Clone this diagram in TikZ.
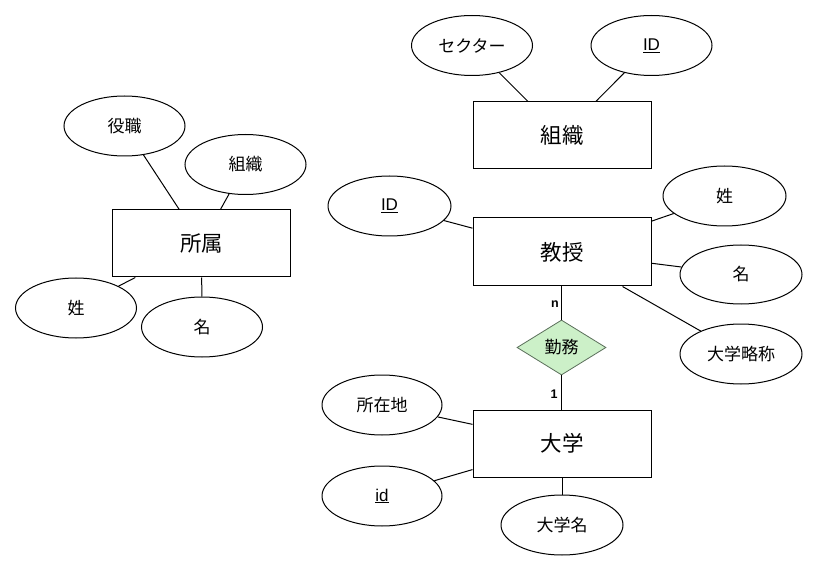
\documentclass[tikz,border=0pt]{standalone}
\usepackage{fontspec}
\setmainfont{Noto Sans CJK JP}
\newfontfamily\latinfont{Liberation Sans}
\usetikzlibrary{shapes.geometric}
\definecolor{relfill}{RGB}{204,240,200}
\definecolor{reldraw}{RGB}{90,110,90}
\tikzset{
  ent/.style={draw, line width=1pt, rectangle, minimum width=178pt, minimum height=67pt, inner sep=0pt, font=\fontsize{21.5}{25}\selectfont},
  attr/.style={draw, line width=1pt, ellipse, minimum width=121pt, minimum height=60pt, inner sep=0pt, font=\fontsize{17}{20}\selectfont},
  rel/.style={draw=reldraw, fill=relfill, line width=0.8pt, diamond, aspect=1.62, minimum width=89pt, minimum height=55pt, inner sep=0pt, font=\fontsize{17}{20}\selectfont},
  conn/.style={line width=1pt},
  card/.style={font=\latinfont\bfseries\fontsize{12.5}{14}\selectfont, inner sep=0pt},
}
\newcommand{\keyattr}[1]{{\latinfont\underline{#1}}}
\begin{document}
\begin{tikzpicture}[x=1pt,y=-1pt]
\useasboundingbox (0,0) rectangle (817,572);
% 所属
\node[ent] (shozoku) at (201.5,243.5) {所属};
\node[attr] (yakushoku) at (124.5,126) {役職};
\node[attr] (soshikiA) at (245.5,164.5) {組織};
\node[attr] (seiA) at (76,308) {姓};
\node[attr] (meiA) at (202,327) {名};
% 組織
\node[ent] (soshiki) at (562,135.5) {組織};
\node[attr] (sector) at (472,45.5) {セクター};
\node[attr] (idS) at (651.5,45.5) {\keyattr{ID}};
% 教授
\node[ent, minimum height=68pt] (kyoju) at (562,252) {教授};
\node[attr, minimum width=123pt] (idK) at (389.5,206) {\keyattr{ID}};
\node[attr, minimum width=123pt] (seiK) at (724.5,196) {姓};
\node[attr, minimum width=122pt, minimum height=59pt] (meiK) at (741,274.5) {名};
\node[attr, minimum width=122pt] (ryaku) at (741,354) {大学略称};
% 勤務
\node[rel] (kinmu) at (561.5,347.5) {勤務};
% 大学
\node[ent] (daigaku) at (562,443.5) {大学};
\node[attr, minimum width=120pt] (shozaichi) at (382,405) {所在地};
\node[attr, minimum width=120pt] (idD) at (382,496) {\keyattr{id}};
\node[attr, minimum width=122pt] (daigakumei) at (562,525) {大学名};
% connectors
\draw[conn] (yakushoku) -- (shozoku);
\draw[conn] (soshikiA) -- (shozoku);
\draw[conn] (seiA) -- (shozoku);
\draw[conn] (meiA) -- (shozoku);
\draw[conn] (sector) -- (soshiki);
\draw[conn] (idS) -- (soshiki);
\draw[conn] (idK) -- (kyoju);
\draw[conn] (seiK) -- (kyoju);
\draw[conn] (meiK) -- (kyoju);
\draw[conn] (ryaku) -- (kyoju);
\draw[conn] (kyoju.south -| kinmu.north) -- (kinmu.north);
\draw[conn] (kinmu.south) -- (daigaku.north -| kinmu.south);
\draw[conn] (shozaichi) -- (daigaku);
\draw[conn] (idD) -- (daigaku);
\draw[conn] (daigakumei) -- (daigaku);
% cardinalities
\node[card] (cn) at (555,304) {n};
\node[card] (c1) at (554,394) {1};
\end{tikzpicture}
\end{document}
